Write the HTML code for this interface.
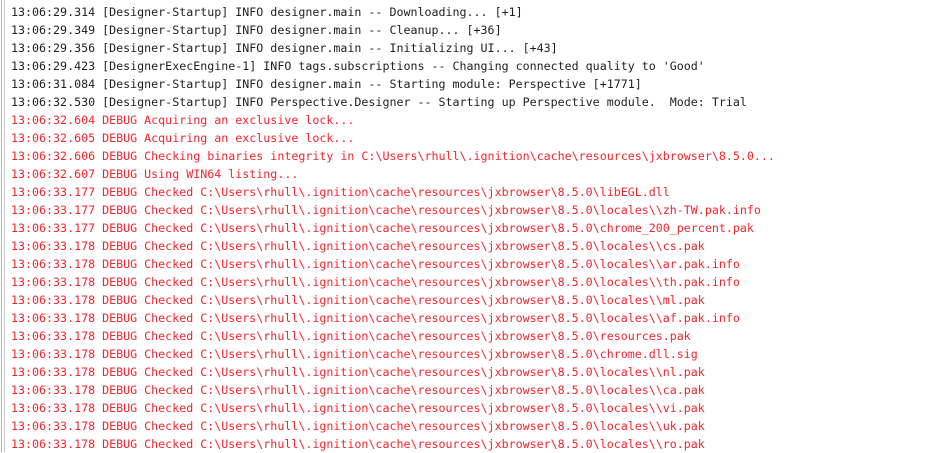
<!DOCTYPE html>
<html><head><meta charset="utf-8"><style>
html,body{margin:0;padding:0;background:#fff;width:931px;height:452px;overflow:hidden}
.b1{position:absolute;left:1px;top:0;width:1px;height:452px;background:#b8b8b8}
.b2{position:absolute;left:4px;top:0;width:1px;height:452px;background:#c8c8c8}
.log{position:absolute;left:11px;top:3px;font-family:"DejaVu Sans Mono","Liberation Mono",monospace;font-size:11.65px;line-height:18px;white-space:pre;color:#1e1e1e}
.r{color:#f0262c}
</style></head><body>
<div class="b1"></div><div class="b2"></div>
<div class="log"><div>13:06:29.314 [Designer-Startup] INFO designer.main -- Downloading... [+1]</div><div>13:06:29.349 [Designer-Startup] INFO designer.main -- Cleanup... [+36]</div><div>13:06:29.356 [Designer-Startup] INFO designer.main -- Initializing UI... [+43]</div><div>13:06:29.423 [DesignerExecEngine-1] INFO tags.subscriptions -- Changing connected quality to 'Good'</div><div>13:06:31.084 [Designer-Startup] INFO designer.main -- Starting module: Perspective [+1771]</div><div>13:06:32.530 [Designer-Startup] INFO Perspective.Designer -- Starting up Perspective module.  Mode: Trial</div><div class="r">13:06:32.604 DEBUG Acquiring an exclusive lock...</div><div class="r">13:06:32.605 DEBUG Acquiring an exclusive lock...</div><div class="r">13:06:32.606 DEBUG Checking binaries integrity in C:\Users\rhull\.ignition\cache\resources\jxbrowser\8.5.0...</div><div class="r">13:06:32.607 DEBUG Using WIN64 listing...</div><div class="r">13:06:33.177 DEBUG Checked C:\Users\rhull\.ignition\cache\resources\jxbrowser\8.5.0\libEGL.dll</div><div class="r">13:06:33.177 DEBUG Checked C:\Users\rhull\.ignition\cache\resources\jxbrowser\8.5.0\locales\\zh-TW.pak.info</div><div class="r">13:06:33.177 DEBUG Checked C:\Users\rhull\.ignition\cache\resources\jxbrowser\8.5.0\chrome_200_percent.pak</div><div class="r">13:06:33.178 DEBUG Checked C:\Users\rhull\.ignition\cache\resources\jxbrowser\8.5.0\locales\\cs.pak</div><div class="r">13:06:33.178 DEBUG Checked C:\Users\rhull\.ignition\cache\resources\jxbrowser\8.5.0\locales\\ar.pak.info</div><div class="r">13:06:33.178 DEBUG Checked C:\Users\rhull\.ignition\cache\resources\jxbrowser\8.5.0\locales\\th.pak.info</div><div class="r">13:06:33.178 DEBUG Checked C:\Users\rhull\.ignition\cache\resources\jxbrowser\8.5.0\locales\\ml.pak</div><div class="r">13:06:33.178 DEBUG Checked C:\Users\rhull\.ignition\cache\resources\jxbrowser\8.5.0\locales\\af.pak.info</div><div class="r">13:06:33.178 DEBUG Checked C:\Users\rhull\.ignition\cache\resources\jxbrowser\8.5.0\resources.pak</div><div class="r">13:06:33.178 DEBUG Checked C:\Users\rhull\.ignition\cache\resources\jxbrowser\8.5.0\chrome.dll.sig</div><div class="r">13:06:33.178 DEBUG Checked C:\Users\rhull\.ignition\cache\resources\jxbrowser\8.5.0\locales\\nl.pak</div><div class="r">13:06:33.178 DEBUG Checked C:\Users\rhull\.ignition\cache\resources\jxbrowser\8.5.0\locales\\ca.pak</div><div class="r">13:06:33.178 DEBUG Checked C:\Users\rhull\.ignition\cache\resources\jxbrowser\8.5.0\locales\\vi.pak</div><div class="r">13:06:33.178 DEBUG Checked C:\Users\rhull\.ignition\cache\resources\jxbrowser\8.5.0\locales\\uk.pak</div><div class="r">13:06:33.178 DEBUG Checked C:\Users\rhull\.ignition\cache\resources\jxbrowser\8.5.0\locales\\ro.pak</div></div>
</body></html>
